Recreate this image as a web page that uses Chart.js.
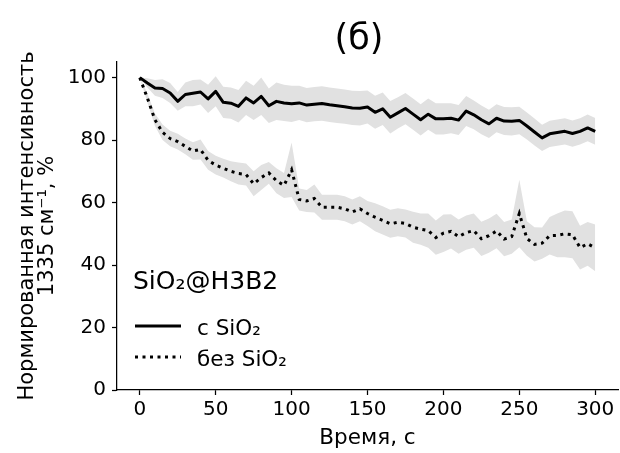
<!DOCTYPE html>
<html>
<head>
<meta charset="utf-8">
<title>SiO2@H3B2</title>
<script src="https://cdn.jsdelivr.net/npm/chart.js@4.4.0/dist/chart.umd.min.js"></script>
<style>
    html, body {
        margin: 0;
        padding: 0;
        background: #fff;
    }
    #chart {
        display: block;
    }
</style>
</head>
<body>
<canvas id="chart" width="620" height="453"></canvas>
<script>
// time, s
const times = [0, 5, 10, 15, 20, 25, 30, 35, 40, 45, 50, 55, 60, 65, 70, 75, 80, 85, 90, 95,
    100, 105, 110, 115, 120, 125, 130, 135, 140, 145, 150, 155, 160, 165, 170, 175, 180, 185, 190, 195,
    200, 205, 210, 215, 220, 225, 230, 235, 240, 245, 250, 255, 260, 265, 270, 275, 280, 285, 290, 295, 300];

// "с SiO2" mean and spread
const withSiO2 = [100, 98.3, 96.7, 96.5, 95.1, 92.4, 94.6, 95.0, 95.4, 93.2, 95.6, 92.1, 91.8, 90.8, 93.5, 91.9, 94.0, 91.0, 92.4, 91.9,
    91.6, 91.9, 91.2, 91.5, 91.7, 91.3, 91.0, 90.7, 90.3, 90.2, 90.6, 88.9, 90.0, 87.3, 88.7, 90.1, 88.3, 86.5, 88.3, 86.8,
    86.8, 87.0, 86.4, 89.3, 88.1, 86.5, 85.2, 87.0, 86.1, 86.0, 86.3, 84.5, 82.6, 80.7, 82.0, 82.4, 82.8, 82.1, 82.8, 83.9, 82.8];
const withSiO2Spread = [0, 1.5, 2.5, 3, 3.2, 3, 3.8, 4.2, 4, 4.5, 4.8, 5, 5, 5.2, 5.5, 5.5, 6, 5.5, 6, 5.8,
    5.8, 5.5, 5.5, 5.5, 5.5, 5.5, 5.5, 5.5, 5.5, 5.5, 5.3, 5.3, 5.2, 5.2, 5, 5, 5, 5, 5, 5,
    5, 4.8, 4.8, 4.8, 4.6, 4.6, 4.5, 4.5, 4.5, 4.5, 4.4, 4.3, 4.3, 4.2, 4.2, 4.2, 4.2, 4.2, 4.2, 4.3, 4.3];

// "без SiO2" mean and spread
const noSiO2 = [100, 93.5, 86.5, 82.5, 80.5, 79.5, 78.0, 76.5, 77.0, 73.5, 72.0, 71.0, 70.0, 69.3, 69.0, 66.0, 68.0, 69.5, 67.0, 65.5,
    70.5, 61.0, 60.5, 61.3, 58.5, 58.5, 58.5, 58.0, 57.0, 58.0, 56.5, 55.3, 54.3, 53.2, 53.7, 53.3, 52.1, 51.5, 51.0, 48.8,
    50.2, 50.8, 49.1, 50.4, 51.0, 48.4, 49.4, 50.9, 48.3, 49.1, 56.5, 48.5, 46.6, 47.0, 49.4, 49.5, 50.0, 49.7, 45.6, 46.8, 45.5];
const noSiO2Spread = [0, 1.5, 2, 2.5, 2.5, 2.5, 2.5, 2.8, 3.2, 3, 3, 3, 3.2, 3.5, 3.5, 4, 4, 3.5, 4, 4,
    8.7, 3.5, 3.5, 4.5, 4, 4, 4, 4, 4, 4, 4, 4.5, 4.5, 4.5, 4.5, 4.5, 5, 5, 5.5, 5.5,
    6, 5.5, 5.5, 5.5, 5.5, 5.5, 5.5, 5.5, 5.5, 5.5, 10.8, 5.5, 5.5, 5, 6, 7, 7.5, 7.5, 7, 7, 7.5];

const xTicks = [0, 50, 100, 150, 200, 250, 300];
const yTicks = [0, 20, 40, 60, 80, 100];

const panelLabel = '(б)';
const legendTitle = 'SiO₂@H3B2';
const seriesNames = ['с SiO₂', 'без SiO₂'];

const FONT = '"DejaVu Sans", "Liberation Sans", sans-serif';
const bandColor = '#e1e1e1';

function points(vals) {
    return times.map((t, i) => ({x: t, y: vals[i]}));
}
function shifted(vals, spread, sign) {
    return times.map((t, i) => ({x: t, y: vals[i] + sign * spread[i]}));
}

// panel label and legend drawn on top of the plot
const extrasPlugin = {
    id: 'extras',
    afterDraw(chart) {
        const ctx = chart.ctx;
        ctx.save();
        ctx.fillStyle = '#000';
        ctx.strokeStyle = '#000';
        ctx.textBaseline = 'alphabetic';

        ctx.font = '35px ' + FONT;
        ctx.textAlign = 'center';
        ctx.fillText(panelLabel, 359, 49);

        ctx.textAlign = 'left';
        ctx.font = '25px ' + FONT;
        ctx.fillText(legendTitle, 133, 289);

        ctx.lineWidth = 3;
        ctx.lineCap = 'butt';
        ctx.beginPath();
        ctx.moveTo(135, 326);
        ctx.lineTo(181, 326);
        ctx.stroke();

        ctx.setLineDash([3, 4.5]);
        ctx.beginPath();
        ctx.moveTo(135, 357);
        ctx.lineTo(181, 357);
        ctx.stroke();
        ctx.setLineDash([]);

        ctx.font = '21.5px ' + FONT;
        ctx.fillText(seriesNames[0], 197, 335);
        ctx.fillText(seriesNames[1], 197, 366);
        ctx.restore();
    }
};

const axisStyle = {
    border: {display: true, color: '#000', width: 1.25},
    grid: {display: true, drawOnChartArea: false, drawTicks: true, tickLength: 5, tickWidth: 1.25, color: '#000'}
};

const chart = new Chart(document.getElementById('chart'), {
    type: 'line',
    data: {
        datasets: [
            {
                label: seriesNames[0],
                data: points(withSiO2),
                borderColor: '#000',
                borderWidth: 3,
                borderJoinStyle: 'round',
                pointRadius: 0,
                fill: false
            },
            {
                label: seriesNames[1],
                data: points(noSiO2),
                borderColor: '#000',
                borderWidth: 3,
                borderDash: [3, 4.5],
                borderCapStyle: 'butt',
                pointRadius: 0,
                fill: false
            },
            {
                data: shifted(withSiO2, withSiO2Spread, 1),
                borderWidth: 0,
                borderColor: 'rgba(0,0,0,0)',
                pointRadius: 0,
                fill: false
            },
            {
                data: shifted(withSiO2, withSiO2Spread, -1),
                borderWidth: 0,
                borderColor: 'rgba(0,0,0,0)',
                backgroundColor: bandColor,
                pointRadius: 0,
                fill: 2
            },
            {
                data: shifted(noSiO2, noSiO2Spread, 1),
                borderWidth: 0,
                borderColor: 'rgba(0,0,0,0)',
                pointRadius: 0,
                fill: false
            },
            {
                data: shifted(noSiO2, noSiO2Spread, -1),
                borderWidth: 0,
                borderColor: 'rgba(0,0,0,0)',
                backgroundColor: bandColor,
                pointRadius: 0,
                fill: 4
            }
        ]
    },
    options: {
        responsive: false,
        animation: false,
        events: [],
        layout: {padding: {top: 62, right: 2, bottom: 0, left: 0}},
        elements: {line: {tension: 0}},
        plugins: {
            legend: {display: false},
            tooltip: {enabled: false},
            filler: {drawTime: 'beforeDatasetsDraw'}
        },
        scales: {
            x: {
                type: 'linear',
                min: -15,
                max: 315,
                afterBuildTicks: s => { s.ticks = xTicks.map(v => ({value: v})); },
                afterFit: s => { s.height = 63; },
                ticks: {color: '#000', padding: 3, maxRotation: 0, font: {family: FONT, size: 20}},
                title: {display: true, text: 'Время, с', color: '#000', padding: {top: 0, bottom: 4},
                        font: {family: FONT, size: 21.5, lineHeight: 1}},
                ...axisStyle
            },
            y: {
                type: 'linear',
                min: 0,
                max: 105,
                afterBuildTicks: s => { s.ticks = yTicks.map(v => ({value: v})); },
                afterFit: s => { s.width = 117; },
                ticks: {color: '#000', padding: 6, font: {family: FONT, size: 20}},
                title: {display: true, text: ['Нормированная интенсивность', '1335 см⁻¹, %'], color: '#000',
                        padding: {top: 17.5, bottom: 0}, font: {family: FONT, size: 21, lineHeight: 0.95}},
                ...axisStyle
            }
        }
    },
    plugins: [extrasPlugin]
});
</script>
</body>
</html>
